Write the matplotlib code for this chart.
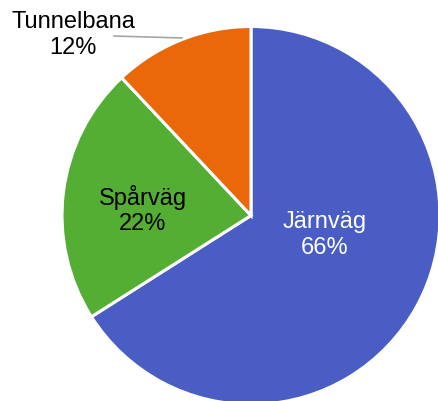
import matplotlib
matplotlib.use("Agg")
import matplotlib.pyplot as plt

categories = ["Järnväg", "Spårväg", "Tunnelbana"]
shares = [66, 22, 12]
colors = ["#4a5dc4", "#55ae34", "#eb680a"]
text_colors = ["white", "black", "black"]

W, H = 439, 401
fig = plt.figure(figsize=(W / 100, H / 100), dpi=100)
ax = fig.add_axes([0, 0, 1, 1])

cx, cy, r = 251, H - 215.5, 189
wedges, _ = ax.pie(shares, colors=colors, startangle=90, counterclock=False,
                   center=(cx, cy), radius=r,
                   wedgeprops=dict(edgecolor="white", linewidth=2.2))
ax.set_xlim(0, W)
ax.set_ylim(0, H)
ax.set_aspect("auto")
ax.axis("off")

font = dict(family="Liberation Sans", fontsize=17)
label_pos = [(325, H - 235), (143, H - 210), (73, H - 35)]
for cat, s, tc, (x, y) in zip(categories, shares, text_colors, label_pos):
    ax.text(x, y, f"{cat}\n{s}%", color=tc, ha="center", va="center",
            linespacing=1.2, **font)

ax.plot([114, 182], [H - 36, H - 38], color="#a6a6a6", lw=1.2)

fig.savefig("out.png", dpi=100)
